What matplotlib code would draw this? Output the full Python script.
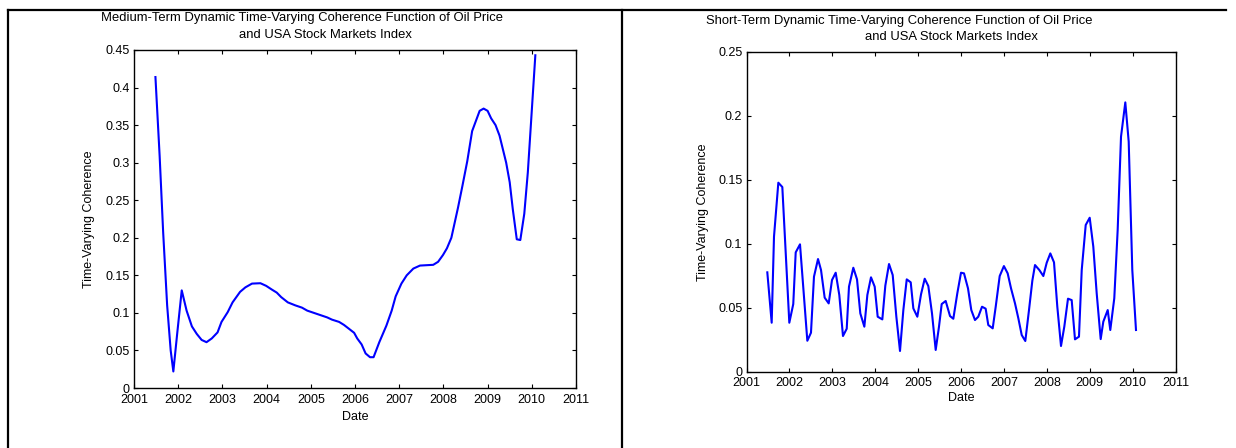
import matplotlib
matplotlib.use("Agg")
import matplotlib.pyplot as plt
from matplotlib.lines import Line2D

plt.rcParams['font.family'] = ['Liberation Sans', 'DejaVu Sans']

# medium-term coherence
med_date = [2001.485, 2001.58, 2001.66, 2001.75, 2001.83, 2001.89, 2001.98, 2002.08,
            2002.19, 2002.31, 2002.42, 2002.53, 2002.64, 2002.76, 2002.89, 2002.98,
            2003.12, 2003.23, 2003.40, 2003.52, 2003.67, 2003.86, 2003.99, 2004.12,
            2004.23, 2004.33, 2004.48, 2004.65, 2004.80, 2004.92, 2005.07, 2005.22,
            2005.37, 2005.48, 2005.64, 2005.75, 2005.86, 2005.98, 2006.05, 2006.15,
            2006.24, 2006.34, 2006.42, 2006.55, 2006.71, 2006.83, 2006.92, 2007.05,
            2007.17, 2007.32, 2007.47, 2007.77, 2007.88, 2007.99, 2008.08, 2008.18,
            2008.33, 2008.43, 2008.54, 2008.65, 2008.82, 2008.91, 2009.0, 2009.08,
            2009.18, 2009.27, 2009.42, 2009.50, 2009.57, 2009.66, 2009.74, 2009.83,
            2009.91, 2010.08]
med_coh = [0.414, 0.309, 0.207, 0.110, 0.050, 0.022, 0.074, 0.130,
           0.103, 0.082, 0.072, 0.064, 0.061, 0.066, 0.074, 0.088,
           0.101, 0.114, 0.128, 0.134, 0.139, 0.1395, 0.136, 0.131,
           0.127, 0.121, 0.114, 0.110, 0.107, 0.103, 0.100, 0.097,
           0.094, 0.091, 0.088, 0.084, 0.079, 0.0735, 0.066, 0.058,
           0.046, 0.041, 0.041, 0.061, 0.083, 0.103, 0.122, 0.139,
           0.150, 0.159, 0.163, 0.164, 0.168, 0.177, 0.186, 0.200,
           0.240, 0.269, 0.302, 0.342, 0.369, 0.372, 0.369, 0.359,
           0.350, 0.336, 0.300, 0.274, 0.238, 0.198, 0.197, 0.232,
           0.287, 0.443]

# short-term coherence
short_date = [2001.485, 2001.587, 2001.641, 2001.742, 2001.835, 2001.998, 2002.09, 2002.147,
              2002.247, 2002.418, 2002.503, 2002.573, 2002.667, 2002.737, 2002.822, 2002.916,
              2002.993, 2003.079, 2003.163, 2003.249, 2003.336, 2003.389, 2003.49, 2003.576,
              2003.653, 2003.747, 2003.817, 2003.902, 2003.988, 2004.058, 2004.166, 2004.236,
              2004.322, 2004.408, 2004.493, 2004.578, 2004.656, 2004.735, 2004.828, 2004.889,
              2004.982, 2005.068, 2005.154, 2005.238, 2005.324, 2005.41, 2005.487, 2005.55,
              2005.643, 2005.744, 2005.821, 2005.914, 2006.0, 2006.07, 2006.163, 2006.24,
              2006.326, 2006.403, 2006.49, 2006.575, 2006.636, 2006.739, 2006.809, 2006.902,
              2007.0, 2007.088, 2007.166, 2007.259, 2007.337, 2007.415, 2007.499, 2007.585,
              2007.663, 2007.725, 2007.826, 2007.919, 2007.998, 2008.082, 2008.168, 2008.245,
              2008.331, 2008.408, 2008.494, 2008.58, 2008.657, 2008.75, 2008.814, 2008.907,
              2009.0, 2009.084, 2009.163, 2009.256, 2009.317, 2009.42, 2009.48, 2009.573,
              2009.652, 2009.73, 2009.83, 2009.909, 2009.993, 2010.079]
short_coh = [0.0777, 0.0383, 0.1056, 0.1478, 0.1444, 0.0383, 0.0529, 0.0933,
             0.0996, 0.0242, 0.0305, 0.0743, 0.0881, 0.0795, 0.0579, 0.0534,
             0.0717, 0.0774, 0.0600, 0.0279, 0.0336, 0.0665, 0.0813, 0.0722,
             0.0456, 0.0352, 0.0600, 0.0738, 0.0665, 0.0430, 0.0409, 0.0673,
             0.0842, 0.0756, 0.0430, 0.0162, 0.0482, 0.0722, 0.0699, 0.0495,
             0.0430, 0.0605, 0.0727, 0.0670, 0.0456, 0.0170, 0.0352, 0.0529,
             0.0553, 0.0435, 0.0414, 0.0613, 0.0774, 0.0769, 0.0652, 0.0482,
             0.0404, 0.0430, 0.0508, 0.0493, 0.0365, 0.0339, 0.0508, 0.0748,
             0.0826, 0.0769, 0.0652, 0.0534, 0.0417, 0.0287, 0.0240, 0.0482,
             0.0712, 0.0834, 0.0795, 0.0748, 0.0852, 0.0925, 0.0855, 0.0508,
             0.0201, 0.0352, 0.0571, 0.0560, 0.0253, 0.0274, 0.0795, 0.1147,
             0.1204, 0.0978, 0.0613, 0.0255, 0.0391, 0.0482, 0.0326, 0.0574,
             0.1108, 0.1838, 0.2106, 0.1799, 0.0795, 0.0326]

years = list(range(2001, 2012))
med_yticks = [0, 0.05, 0.1, 0.15, 0.2, 0.25, 0.3, 0.35, 0.4, 0.45]
med_ylabels = ['0', '0.05', '0.1', '0.15', '0.2', '0.25', '0.3', '0.35', '0.4', '0.45']
short_yticks = [0, 0.05, 0.1, 0.15, 0.2, 0.25]
short_ylabels = ['0', '0.05', '0.1', '0.15', '0.2', '0.25']

W, H = 1236, 448
fig = plt.figure(figsize=(W / 100, H / 100), dpi=100)
fs = 9
fs_title = 9.4


def setup(ax, yticks, ylabels, ymax):
    ax.set_xlim(2001, 2011)
    ax.set_ylim(0, ymax)
    ax.set_xticks(years)
    ax.set_xticklabels([str(y) for y in years])
    ax.set_yticks(yticks)
    ax.set_yticklabels(ylabels)
    ax.tick_params(direction='in', length=3, width=0.8, top=True, right=True,
                   labelsize=fs, pad=3)
    ax.tick_params(axis='x', pad=4)
    for s in ax.spines.values():
        s.set_linewidth(1.0)
    ax.set_xlabel('Date', fontsize=fs)
    ax.set_ylabel('Time-Varying Coherence', fontsize=fs)
    ax.xaxis.label.set_va('center')
    ax.yaxis.label.set_va('center')


# left panel
ax1 = fig.add_axes([134 / W, 1 - 388 / H, 442 / W, 338 / H])
ax1.plot(med_date, med_coh, color='#0000ff', lw=1.5)
setup(ax1, med_yticks, med_ylabels, 0.45)
ax1.yaxis.set_label_coords((89 - 134) / 442, 0.5)
ax1.xaxis.set_label_coords(0.5, -(417 - 388) / 338)

# right panel
ax2 = fig.add_axes([746.5 / W, 1 - 371.7 / H, 429 / W, 319.7 / H])
ax2.plot(short_date, short_coh, color='#0000ff', lw=1.5)
setup(ax2, short_yticks, short_ylabels, 0.25)
ax2.yaxis.set_label_coords((703 - 746.5) / 429, 0.5)
ax2.xaxis.set_label_coords(0.5, -(398 - 371.7) / 319.7)

# titles (two lines each, offset like the original)
fig.text(302 / W, 1 - 18 / H, 'Medium-Term Dynamic Time-Varying Coherence Function of Oil Price',
         ha='center', va='center', fontsize=fs_title)
fig.text(325 / W, 1 - 35 / H, 'and USA Stock Markets Index', ha='center', va='center',
         fontsize=fs_title)
fig.text(899 / W, 1 - 21 / H, 'Short-Term Dynamic Time-Varying Coherence Function of Oil Price',
         ha='center', va='center', fontsize=fs_title)
fig.text(951 / W, 1 - 36.5 / H, 'and USA Stock Markets Index', ha='center', va='center',
         fontsize=fs_title)

# outer frame of the table
fig.add_artist(Line2D([7.5 / W, 1226 / W], [1 - 10 / H, 1 - 10 / H], color='black', lw=1.6))
fig.add_artist(Line2D([7.5 / W, 7.5 / W], [0, 1 - 10 / H], color='black', lw=1.6))
fig.add_artist(Line2D([621.5 / W, 621.5 / W], [0, 1 - 10 / H], color='black', lw=1.6))

fig.savefig('out.png', dpi=100)
